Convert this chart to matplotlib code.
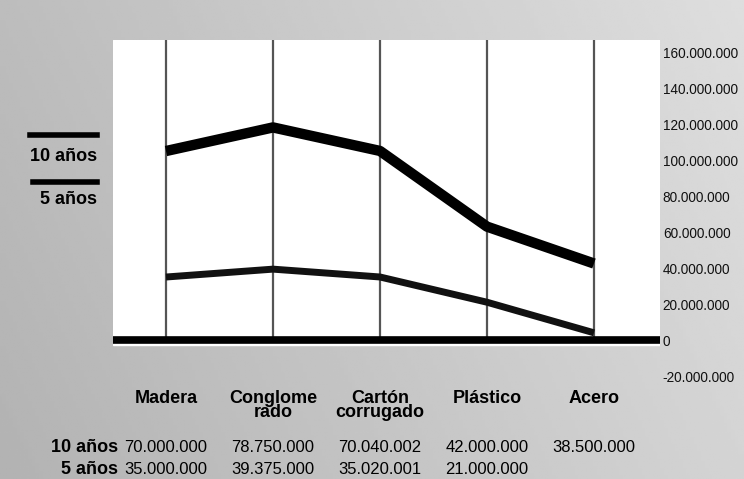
import numpy as np
import matplotlib
matplotlib.use("Agg")
import matplotlib.pyplot as plt
from matplotlib.lines import Line2D

plt.rcParams["font.family"] = ["Liberation Sans", "DejaVu Sans"]

# data
categories = ["Madera", "Conglome\nrado", "Cartón\ncorrugado", "Plástico", "Acero"]
vals_10 = [70000000, 78750000, 70040002, 42000000, 38500000]
vals_5 = [35000000, 39375000, 35020001, 21000000, 4000000]
table_10 = ["70.000.000", "78.750.000", "70.040.002", "42.000.000", "38.500.000"]
table_5 = ["35.000.000", "39.375.000", "35.020.001", "21.000.000", ""]
yticks = [-20000000, 0, 20000000, 40000000, 60000000, 80000000,
          100000000, 120000000, 140000000, 160000000]
ytick_labels = ["-20.000.000", "0", "20.000.000", "40.000.000", "60.000.000",
                "80.000.000", "100.000.000", "120.000.000", "140.000.000", "160.000.000"]

# stacked: 5 años at bottom, 10 años on top
lower = np.array(vals_5, dtype=float)
upper = lower + np.array(vals_10, dtype=float)

W, H = 744, 479
fig = plt.figure(figsize=(W / 100, H / 100), dpi=100)

# gray paper background with a soft gradient
bg = fig.add_axes([0, 0, 1, 1], zorder=-10)
gx = np.linspace(0, 1, 200)
gy = np.linspace(0, 1, 200)
GX, GY = np.meshgrid(gx, gy)
shade = 0.70 + 0.13 * GX + 0.04 * (1 - GY)
bg.imshow(shade, cmap="gray", vmin=0, vmax=1, extent=[0, 1, 0, 1],
          aspect="auto", origin="upper")
bg.axis("off")

# main axes
left_px, right_px, top_px, bot_px = 113, 660, 40, 385
ax = fig.add_axes([left_px / W, 1 - bot_px / H,
                   (right_px - left_px) / W, (bot_px - top_px) / H])
ax.set_facecolor("none")
x = np.arange(len(categories))
ax.set_xlim(-0.495, 4.617)
ytop = 166.7e6
ax.set_ylim(-25e6, ytop)

# white panel
ax.axhspan(-2.8e6, ytop, color="white", zorder=0)

# vertical grid lines at categories
ax.vlines(x, 0, ytop, colors="#555555", linewidth=1.6, zorder=1)

# zero line
ax.axhline(0, color="black", linewidth=5.5, zorder=3)

ax.plot(x, upper, color="black", linewidth=7.5, solid_capstyle="butt", zorder=4)
ax.plot(x, lower, color="#111111", linewidth=5, solid_capstyle="butt", zorder=4)

for s in ax.spines.values():
    s.set_visible(False)
ax.set_xticks([])
ax.yaxis.tick_right()
ax.set_yticks(yticks)
ax.set_yticklabels(ytick_labels, fontsize=9.8)
ax.tick_params(axis="y", length=0, pad=2, colors="#111111")

# category labels
for xi, lab in zip(x, categories):
    ax.annotate(lab, (xi, 0), xytext=(0, -36), textcoords="offset points",
                ha="center", va="top", fontsize=13, fontweight="bold",
                linespacing=0.8, annotation_clip=False)

# data table
row_y = [447, 470]
for ry, name, row in zip(row_y, ["10 años", "5 años"], [table_10, table_5]):
    fig.text(118 / W, 1 - ry / H, name, ha="right", va="center",
             fontsize=13, fontweight="bold")
    for xi, txt in zip(x, row):
        px = ax.transData.transform((xi, 0))[0]
        fig.text(px / W, 1 - ry / H, txt, ha="center", va="center", fontsize=12)

# legend on the left
fig.add_artist(Line2D([30 / W, 97 / W], [1 - 135 / H] * 2, color="black", linewidth=4))
fig.text(97 / W, 1 - 156 / H, "10 años", ha="right", va="center",
         fontsize=13, fontweight="bold")
fig.add_artist(Line2D([33 / W, 97 / W], [1 - 182 / H] * 2, color="black", linewidth=4))
fig.text(97 / W, 1 - 199 / H, "5 años", ha="right", va="center",
         fontsize=13, fontweight="bold")

fig.savefig("out.png", dpi=100)
